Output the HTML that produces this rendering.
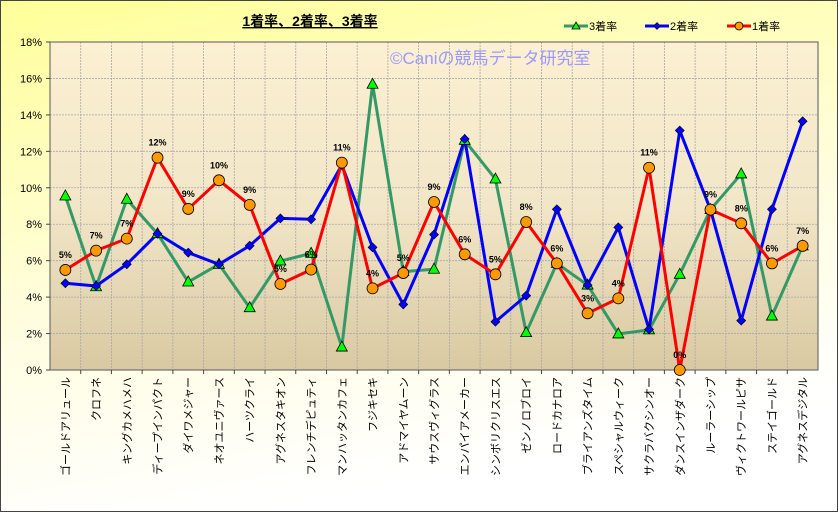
<!DOCTYPE html>
<html><head><meta charset="utf-8"><style>
html,body{margin:0;padding:0;width:838px;height:513px;overflow:hidden}
svg{display:block;font-family:"Liberation Sans","Noto Sans CJK JP",sans-serif}
</style></head><body>
<svg id="chart" width="838" height="513" viewBox="0 0 838 513">
<defs>
<linearGradient id="outer" x1="0" y1="0" x2="0.3" y2="1"><stop offset="0" stop-color="#ffff99"/><stop offset="0.6" stop-color="#fffde0"/><stop offset="1" stop-color="#ffffff"/></linearGradient>
<linearGradient id="plotbg" x1="0" y1="0" x2="0" y2="1"><stop offset="0" stop-color="#fdf0d2"/><stop offset="0.5" stop-color="#f2e6c8"/><stop offset="1" stop-color="#d9c9a2"/></linearGradient>
</defs>
<rect x="0.5" y="0.5" width="837" height="511" fill="url(#outer)" stroke="#444"/>
<rect x="50" y="42" width="768" height="328" fill="url(#plotbg)"/>
<g id="grid"></g>
<rect x="50" y="42" width="768" height="328" fill="none" stroke="#707070" stroke-width="1.2"/>
<text x="310" y="26" font-size="14" font-weight="bold" text-anchor="middle" text-decoration="underline" fill="#000">1着率、2着率、3着率</text>
<text x="390" y="64" font-size="17" fill="#9999ff">©Caniの競馬データ研究室</text>
<g id="axes"></g>
<g id="series"></g>
<g>
<g><line x1="564" y1="26" x2="588" y2="26" stroke="#339966" stroke-width="3"/><path d="M576,22 L580,29 L572,29 Z" fill="#00ff00" stroke="#000" stroke-width="0.8"/><text x="589" y="30" font-size="11">3着率</text></g>
<g><line x1="645" y1="26" x2="669" y2="26" stroke="#0000ff" stroke-width="3"/><path d="M657,22.5 L660.5,26 L657,29.5 L653.5,26 Z" fill="#0000ff" stroke="#000" stroke-width="0.6"/><text x="670" y="30" font-size="11">2着率</text></g>
<g><line x1="727" y1="26" x2="751" y2="26" stroke="#ff0000" stroke-width="3"/><circle cx="739" cy="26" r="4" fill="#ff9900" stroke="#000" stroke-width="0.8"/><text x="752" y="30" font-size="11">1着率</text></g>
</g>
</svg>
<script>
const categories=["ゴールドアリュール","クロフネ","キングカメハメハ","ディープインパクト","ダイワメジャー","ネオユニヴァース","ハーツクライ","アグネスタキオン","フレンチデピュティ","マンハッタンカフェ","フジキセキ","アドマイヤムーン","サウスヴィグラス","エンパイアメーカー","シンボリクリスエス","ゼンノロブロイ","ロードカナロア","ブライアンズタイム","スペシャルウィーク","サクラバクシンオー","ダンスインザダーク","ルーラーシップ","ヴィクトワールピサ","ステイゴールド","アグネスデジタル"];
const rate1=[5.49,6.55,7.21,11.65,8.84,10.41,9.06,4.72,5.51,11.38,4.48,5.32,9.22,6.35,5.25,8.12,5.85,3.11,3.93,11.10,0,8.80,8.05,5.85,6.81];
const rate2=[4.76,4.61,5.80,7.48,6.44,5.80,6.82,8.32,8.27,11.25,6.73,3.60,7.43,12.68,2.65,4.08,8.82,4.66,7.83,2.23,13.14,8.80,2.71,8.82,13.65];
const rate3=[9.55,4.57,9.37,7.48,4.83,5.80,3.42,5.98,6.40,1.26,15.68,5.40,5.53,12.60,10.48,2.05,5.85,4.66,1.98,2.20,5.25,8.80,10.76,2.96,6.81];
const yTicks=[0,2,4,6,8,10,12,14,16,18];
const NS="http://www.w3.org/2000/svg";
const L=50,R=818,T=42,B=370,yMax=18;
const step=(R-L)/categories.length;
const xs=i=>L+step*(i+0.5);
const ys=v=>B-(v/yMax)*(B-T);
function mk(tag,attrs,parent){const e=document.createElementNS(NS,tag);for(const k in attrs)e.setAttribute(k,attrs[k]);parent.appendChild(e);return e;}
const grid=document.getElementById('grid'),axes=document.getElementById('axes'),series=document.getElementById('series');
yTicks.forEach(t=>{
  const y=ys(t);
  const g=mk('line',{x1:L,x2:R,y1:y,y2:y,stroke:'#a8a8a8','stroke-width':0.8,'stroke-dasharray':'2,1'},grid);
  
  
  mk('line',{x1:L-4,x2:L,y1:y,y2:y,stroke:'#444'},axes);
  const tx=mk('text',{x:L-8,y:y+4,'font-size':11,'text-anchor':'end',fill:'#000'},axes);
  tx.textContent=t+'%';
  
  
});
for(let i=1;i<categories.length;i++){
  const x=L+step*i;
  const g=mk('line',{x1:x,x2:x,y1:T,y2:B,stroke:'#a8a8a8','stroke-width':0.8,'stroke-dasharray':'2,1'},grid);
  
  
  mk('line',{x1:x,x2:x,y1:B,y2:B+4,stroke:'#444'},axes);
}
categories.forEach((c,i)=>{
  const x=xs(i);
  const tx=mk('text',{x:0,y:0,'font-size':11,'text-anchor':'end',fill:'#000',transform:`translate(${x+4},377) rotate(-90)`},axes);
  tx.textContent=c;
  
  
});
function line(data,color,name){
  const p=mk('polyline',{points:data.map((v,i)=>xs(i)+','+ys(v)).join(' '),fill:'none',stroke:color,'stroke-width':3,'stroke-linejoin':'round'},series);
  
  
}
line(rate3,'#339966','line-3rd-rate');
line(rate2,'#0000ff','line-2nd-rate');
line(rate1,'#ff0000','line-1st-rate');
rate3.forEach((v,i)=>{const x=xs(i),y=ys(v);
  const m=mk('path',{d:`M${x},${y-6} L${x+5.5},${y+4} L${x-5.5},${y+4} Z`,fill:'#00ff00',stroke:'#000','stroke-width':0.8},series);
  
  
});
rate2.forEach((v,i)=>{const x=xs(i),y=ys(v);
  const m=mk('path',{d:`M${x},${y-4.5} L${x+4.5},${y} L${x},${y+4.5} L${x-4.5},${y} Z`,fill:'#0000ff',stroke:'#000','stroke-width':0.6},series);
  
  
});
rate1.forEach((v,i)=>{const x=xs(i),y=ys(v);
  const m=mk('circle',{cx:x,cy:y,r:5.5,fill:'#ff9900',stroke:'#000','stroke-width':0.8},series);
  
  
  const t=mk('text',{x:x,y:y-12,'font-size':9,'font-weight':'bold','text-anchor':'middle',fill:'#000'},series);
  t.textContent=Math.round(v)+'%';
  
  
});
</script>
</body></html>
